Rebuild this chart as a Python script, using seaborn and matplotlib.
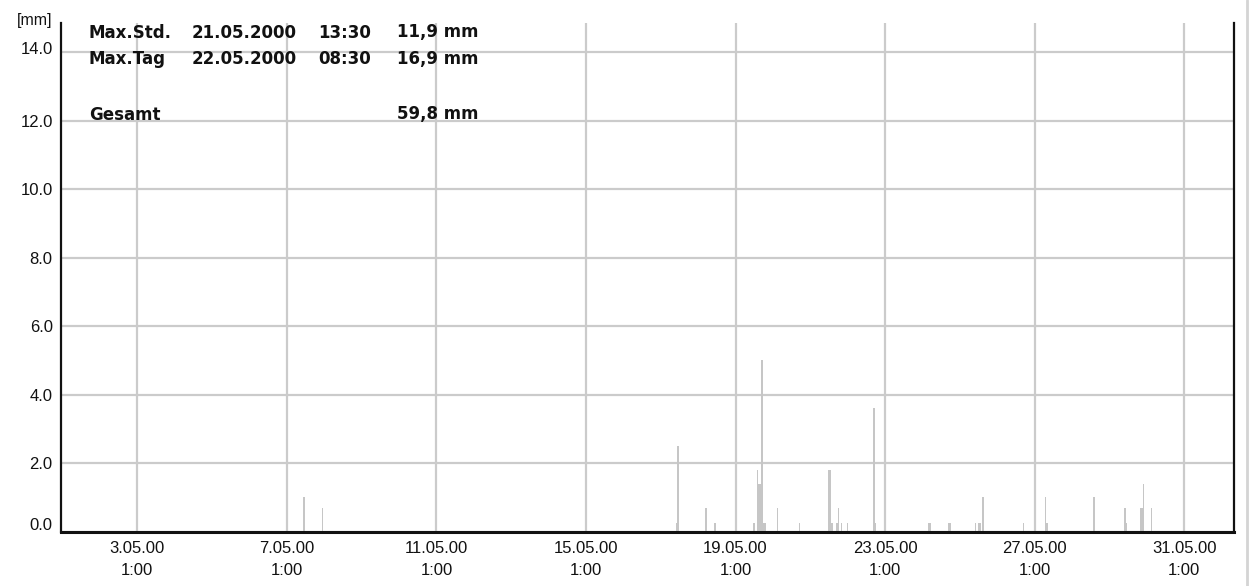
import matplotlib
matplotlib.use("Agg")
import matplotlib.pyplot as plt
from matplotlib.transforms import ScaledTranslation
import pandas as pd
import seaborn as sns

# hourly precipitation, May 2000 (only the hours with rain)
times = [
    "07.05 12:00", "08.05 00:00",
    "17.05 11:00", "17.05 12:00", "18.05 06:00", "18.05 12:00",
    "19.05 13:00", "19.05 15:00", "19.05 16:00", "19.05 17:00", "19.05 18:00",
    "19.05 19:00", "19.05 20:00", "20.05 04:00", "20.05 18:00",
    "21.05 13:00", "21.05 14:00", "21.05 15:00", "21.05 18:00", "21.05 19:00",
    "21.05 21:00", "22.05 01:00", "22.05 18:00", "22.05 19:00",
    "24.05 05:00", "24.05 06:00", "24.05 18:00", "24.05 19:00",
    "25.05 11:00", "25.05 13:00", "25.05 14:00", "25.05 16:00", "26.05 18:00",
    "27.05 08:00", "27.05 09:00", "28.05 15:00",
    "29.05 11:00", "29.05 12:00", "29.05 21:00", "29.05 22:00", "29.05 23:00",
    "30.05 04:00",
]
rain_mm = [
    1.0, 0.7,
    0.25, 2.5, 0.7, 0.25,
    0.25, 1.8, 1.4, 1.4, 5.0,
    0.25, 0.25, 0.7, 0.25,
    1.8, 1.8, 0.25, 0.25, 0.7,
    0.25, 0.25, 3.6, 0.25,
    0.25, 0.25, 0.25, 0.25,
    0.25, 0.25, 0.25, 1.0, 0.25,
    1.0, 0.25, 1.0,
    0.7, 0.25, 0.7, 0.7, 1.4,
    0.7,
]

tick_days = ["3.05.00", "7.05.00", "11.05.00", "15.05.00",
             "19.05.00", "23.05.00", "27.05.00", "31.05.00"]
y_ticks = [0, 2, 4, 6, 8, 10, 12, 14]

start = pd.Timestamp("2000-05-01 00:00")
df = pd.DataFrame({
    "time": pd.to_datetime([t + " 2000" for t in times], format="%d.%m %H:%M %Y"),
    "rain": rain_mm,
})
df["hour"] = (df["time"] - start) / pd.Timedelta(hours=1)

tick_hours = [(pd.to_datetime(d + " 01:00", format="%d.%m.%y %H:%M") - start)
              / pd.Timedelta(hours=1) for d in tick_days]

sns.set_theme(style="white")
plt.rcParams["font.family"] = ["Liberation Sans", "DejaVu Sans"]

fig = plt.figure(figsize=(12.49, 5.86), dpi=100)
ax = fig.add_axes([61 / 1249, 1 - 531.5 / 586, (1234 - 61) / 1249, (531.5 - 23) / 586])

sns.barplot(data=df, x="hour", y="rain", native_scale=True, width=1.0,
            color="#c6c6c6", saturation=1, linewidth=0, errorbar=None, ax=ax)

ax.set_xlim(0, 753)
ax.set_ylim(0, 14.85)
ax.set_xticks(tick_hours)
ax.set_xticklabels([d + "\n1:00" for d in tick_days], fontsize=12, color="#111111",
                   linespacing=1.65)
ax.set_yticks(y_ticks)
ax.set_yticklabels([f"{v:.1f}" for v in y_ticks], fontsize=12, color="#111111")
ax.tick_params(axis="x", length=0, pad=6.5)
ax.tick_params(axis="y", length=0, pad=6)
ax.set_xlabel("")
ax.set_ylabel("")

# lift the 0.0 and 14.0 labels a little, as in the original
ylabels = ax.get_yticklabels()
for lbl, dy in [(ylabels[0], 7), (ylabels[-1], 4)]:
    lbl.set_transform(lbl.get_transform() + ScaledTranslation(0, dy / 100, fig.dpi_scale_trans))

ax.grid(True, color="#cbcbcb", linewidth=1.6)
ax.set_axisbelow(True)
for side in ["left", "right", "bottom"]:
    ax.spines[side].set_visible(True)
    ax.spines[side].set_color("#111111")
ax.spines["top"].set_visible(False)
ax.spines["left"].set_linewidth(1.6)
ax.spines["right"].set_linewidth(1.6)
ax.spines["bottom"].set_linewidth(2.2)

fig.text(52 / 1249, 1 - 20 / 586, "[mm]", fontsize=11.5, color="#111111",
         ha="right", va="center")

# summary block in the top-left corner
rows = [
    (37.5, ["Max.Std.", "21.05.2000", "13:30", "11,9 mm"]),
    (64, ["Max.Tag", "22.05.2000", "08:30", "16,9 mm"]),
    (119.5, ["Gesamt", "", "", "59,8 mm"]),
]
cols = [89, 192, 318, 397]
for y, cells in rows:
    for x, s in zip(cols, cells):
        fig.text(x / 1249, 1 - y / 586, s, fontsize=12, fontweight="bold",
                 family="DejaVu Sans", color="#111111", va="baseline")

fig.add_artist(plt.Line2D([1247 / 1249, 1247 / 1249], [0, 1], color="#d4d4d4",
                          linewidth=2, transform=fig.transFigure))

fig.savefig("out.png", dpi=100)
